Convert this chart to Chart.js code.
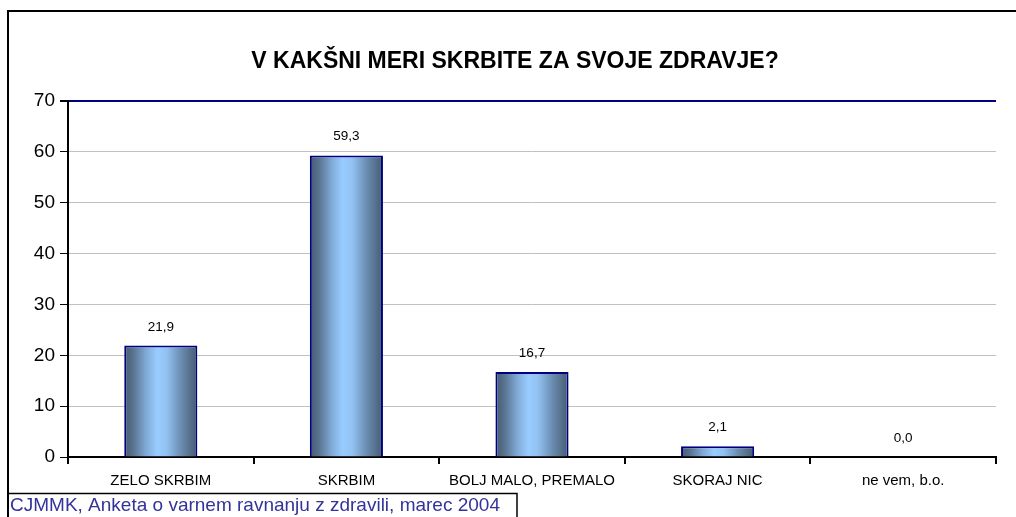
<!DOCTYPE html>
<html>
<head>
<meta charset="utf-8">
<script src="https://cdn.jsdelivr.net/npm/chart.js@4/dist/chart.umd.min.js"></script>
<style>
  html, body { margin: 0; padding: 0; background: #fff; }
  #wrap { width: 1016px; height: 517px; position: relative; }
</style>
</head>
<body>
<div id="wrap"><canvas id="barChart"></canvas></div>
<script>
// data
var categories = ['ZELO SKRBIM', 'SKRBIM', 'BOLJ MALO, PREMALO', 'SKORAJ NIC', 'ne vem, b.o.'];
var percents   = [21.9, 59.3, 16.7, 2.1, 0.0];
var yTicks     = [0, 10, 20, 30, 40, 50, 60, 70];
var titleText  = 'V KAKŠNI MERI SKRBITE ZA SVOJE ZDRAVJE?';
var sourceText = 'CJMMK, Anketa o varnem ravnanju z zdravili, marec 2004';

var FONT = '"Liberation Sans", Arial, sans-serif';
var BAR_PCT = 0.394;

// cylinder-like shading across each bar
function barGradient(c) {
  var chart = c.chart;
  var xs = chart.scales.x;
  if (!xs || !chart.chartArea) return '#99ccff';
  var cx = xs.getPixelForValue(c.dataIndex);
  var w = (chart.chartArea.width / categories.length) * BAR_PCT;
  var g = chart.ctx.createLinearGradient(cx - w / 2, 0, cx + w / 2, 0);
  g.addColorStop(0, '#465a70');
  g.addColorStop(0.12, '#58728e');
  g.addColorStop(0.3, '#80aad6');
  g.addColorStop(0.45, '#99ccff');
  g.addColorStop(0.58, '#92c2f2');
  g.addColorStop(0.78, '#6a8cb0');
  g.addColorStop(1, '#455a70');
  return g;
}

// value labels above the bars, decimal comma
var valueLabels = {
  id: 'valueLabels',
  afterDatasetsDraw: function (chart) {
    var ctx = chart.ctx;
    var meta = chart.getDatasetMeta(0);
    ctx.save();
    ctx.font = '13.5px ' + FONT;
    ctx.fillStyle = '#000';
    ctx.textAlign = 'center';
    ctx.textBaseline = 'bottom';
    meta.data.forEach(function (bar, i) {
      ctx.fillText(percents[i].toFixed(1).replace('.', ','), bar.x, bar.y - 12);
    });
    ctx.restore();
  }
};

// outer frame + source box
var frame = {
  id: 'frame',
  afterDraw: function (chart) {
    var ctx = chart.ctx;
    ctx.save();
    ctx.strokeStyle = '#000';
    ctx.lineWidth = 2;
    ctx.strokeRect(8, 11, 1030, 540);
    ctx.lineWidth = 1.5;
    ctx.strokeRect(8, 493.5, 509, 40);
    ctx.font = '19px ' + FONT;
    ctx.fillStyle = '#333399';
    ctx.textAlign = 'left';
    ctx.textBaseline = 'alphabetic';
    ctx.fillText(sourceText, 10, 511);
    ctx.restore();
  }
};

var ctx = document.getElementById('barChart').getContext('2d');
new Chart(ctx, {
  type: 'bar',
  data: {
    labels: categories,
    datasets: [{
      data: percents,
      backgroundColor: barGradient,
      borderColor: '#000080',
      borderWidth: 2,
      categoryPercentage: 1,
      barPercentage: BAR_PCT
    }]
  },
  options: {
    responsive: true,
    maintainAspectRatio: false,
    animation: false,
    layout: { padding: { left: 34, right: 20, top: 0, bottom: 0 } },
    plugins: {
      legend: { display: false },
      tooltip: { enabled: false },
      title: {
        display: true,
        text: titleText,
        color: '#000',
        font: { family: FONT, size: 23, weight: 'bold' },
        padding: { top: 48, bottom: 25.4 }
      }
    },
    scales: {
      x: {
        offset: true,
        grid: {
          offset: true,
          drawOnChartArea: true,
          color: function (c) { return c.index === categories.length ? '#000080' : 'rgba(0,0,0,0)'; },
          lineWidth: 2,
          tickColor: '#000',
          tickLength: 7
        },
        border: { color: '#000', width: 2 },
        ticks: {
          color: '#000',
          font: { family: FONT, size: 15 },
          padding: 8,
          maxRotation: 0,
          autoSkip: false
        },
        afterFit: function (s) { s.height = 60; }
      },
      y: {
        min: yTicks[0],
        max: yTicks[yTicks.length - 1],
        afterBuildTicks: function (s) { s.ticks = yTicks.map(function (v) { return { value: v }; }); },
        grid: {
          color: function (c) { return c.tick && c.tick.value === 70 ? '#000080' : '#c0c0c0'; },
          lineWidth: function (c) { return c.tick && c.tick.value === 70 ? 2 : 1; },
          tickColor: '#000',
          tickLength: 8
        },
        border: { color: '#000', width: 2 },
        ticks: {
          color: '#000',
          font: { family: FONT, size: 19 },
          padding: 5
        },
        afterFit: function (s) { s.width = 34; }
      }
    }
  },
  plugins: [valueLabels, frame]
});
</script>
</body>
</html>
